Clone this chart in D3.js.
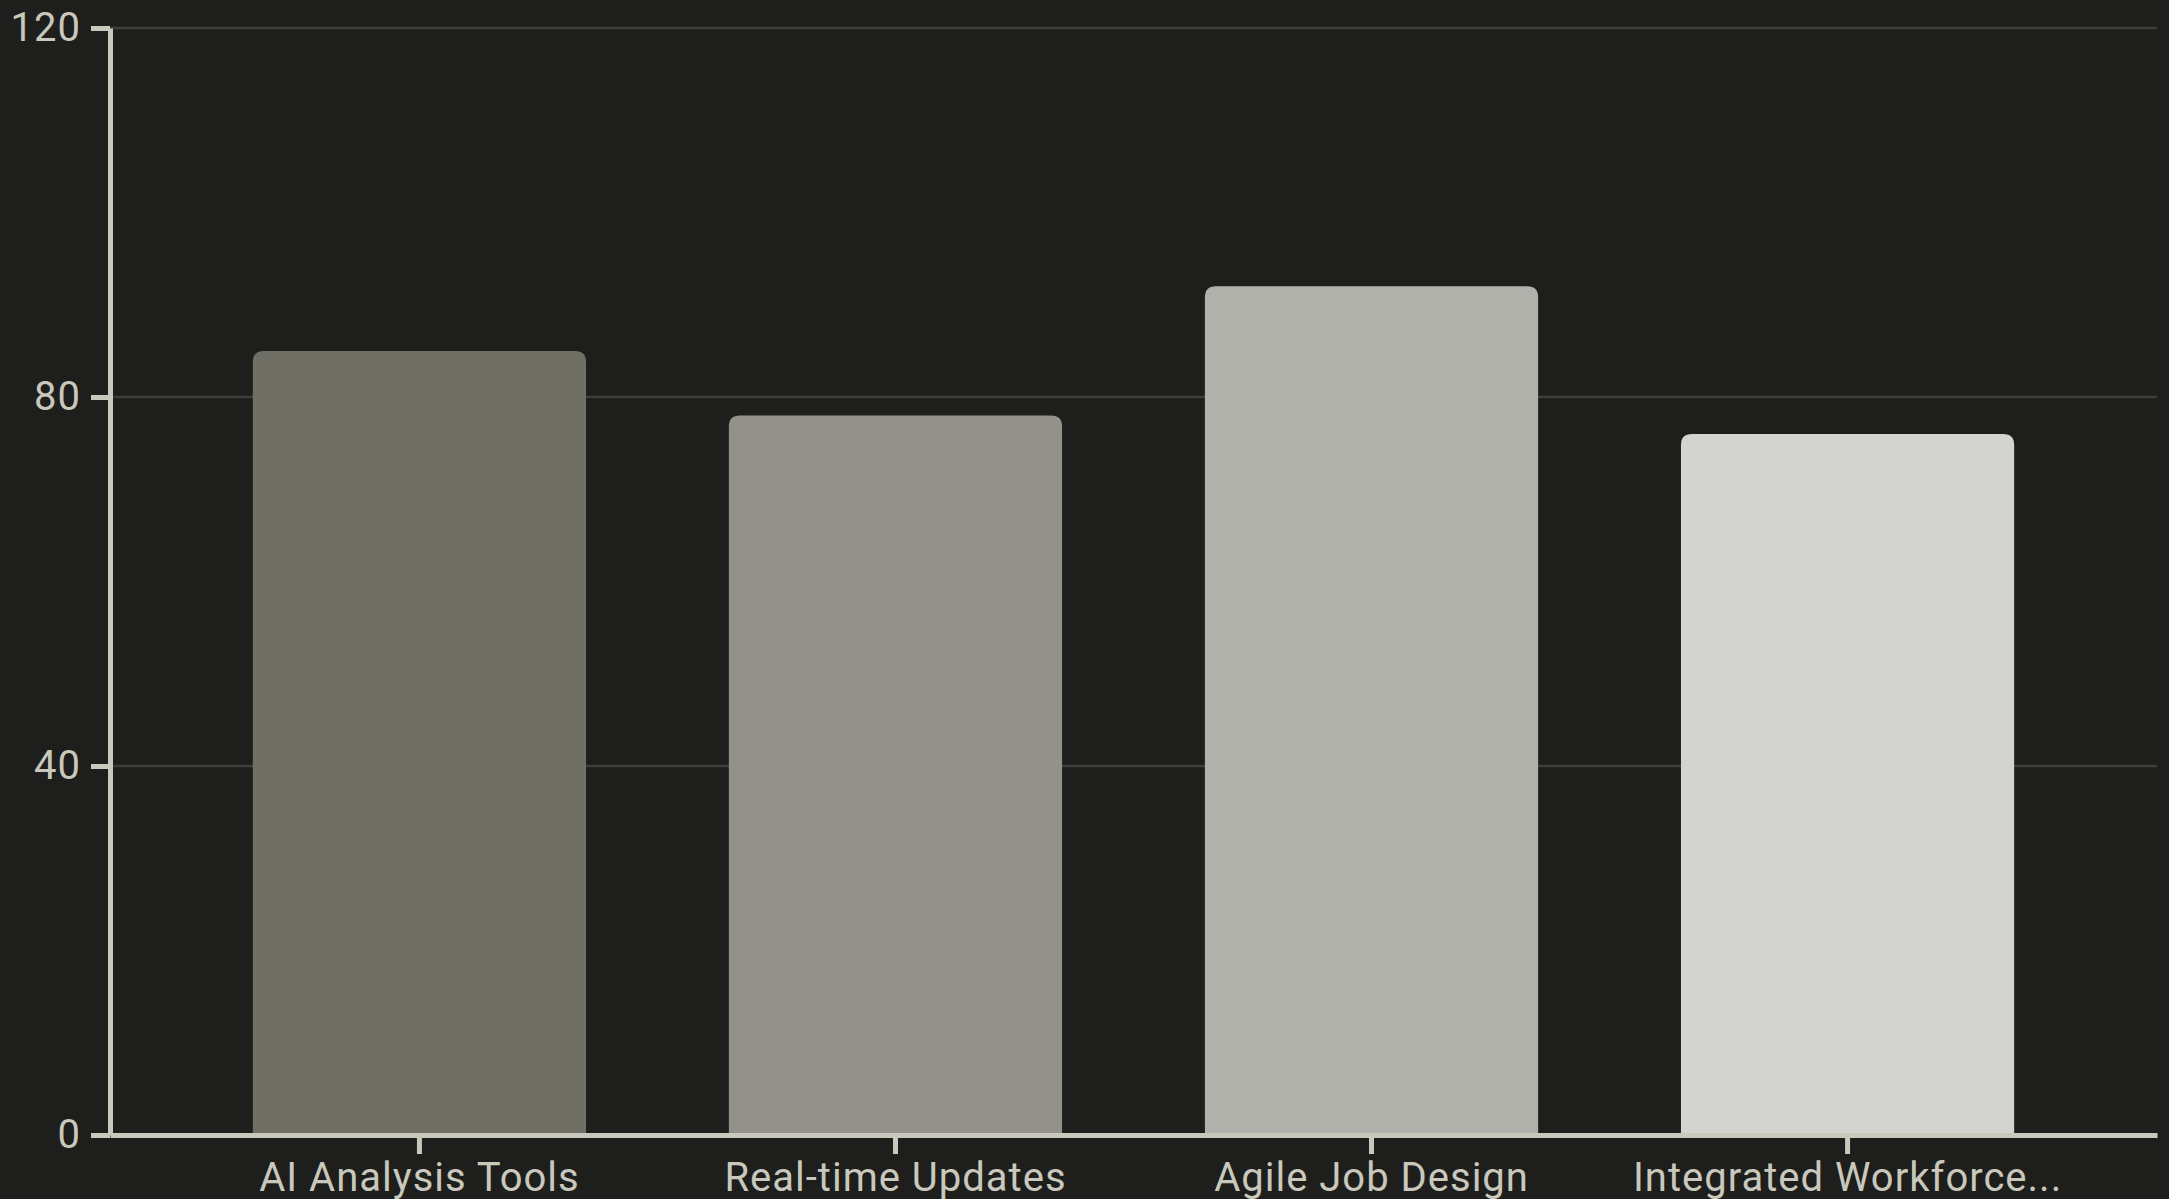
<!DOCTYPE html>
<meta charset="utf-8">
<script src="https://d3js.org/d3.v7.min.js"></script>
<style>
  body { margin: 0; background: #1e1e1c; }
</style>
<div id="bar_chart"></div>
<script>

    // data
    const categories = ["AI Analysis Tools", "Real-time Updates", "Agile Job Design", "Integrated Workforce..."];
    const values = [85, 78, 92, 76];
    const barColors = ["#6f6f66", "#92928a", "#b0b1ab", "#d3d4cf"];
    const yTicks = [0, 40, 80, 120];

    const W = 2169, H = 1199;
    const margin = {top: 28, right: 12, bottom: 64, left: 110},
          width = W - margin.left - margin.right,
          height = H - margin.top - margin.bottom;

    const axisColor = "#c8c8bc";

    const svg = d3.select("#bar_chart")
      .append("svg")
        .attr("width", W)
        .attr("height", H)
        .style("background", "#1e1e1c")
      .append("g")
        .attr("transform", "translate(" + margin.left + "," + margin.top + ")");

    const x = d3.scaleBand()
      .domain(categories)
      .range([0, width])
      .paddingInner(0.3)
      .paddingOuter(0.3);

    const y = d3.scaleLinear()
      .domain([0, 120])
      .range([height, 0]);

    // grid lines
    svg.append("g")
      .selectAll("line")
      .data(yTicks.filter(d => d > 0))
      .enter()
      .append("line")
        .attr("x1", 0)
        .attr("x2", width)
        .attr("y1", d => y(d))
        .attr("y2", d => y(d))
        .attr("stroke", "#3d3d3b")
        .attr("stroke-width", 2.5);

    // bars, top corners rounded
    const r = 11;
    function barPath(d, i) {
      const x0 = x(categories[i]), x1 = x0 + x.bandwidth();
      const y0 = y(d), yb = y(0);
      return "M" + x0 + "," + yb +
             "V" + (y0 + r) +
             "Q" + x0 + "," + y0 + " " + (x0 + r) + "," + y0 +
             "H" + (x1 - r) +
             "Q" + x1 + "," + y0 + " " + x1 + "," + (y0 + r) +
             "V" + yb + "Z";
    }

    svg.append("g")
      .selectAll("path")
      .data(values)
      .enter()
      .append("path")
        .attr("d", barPath)
        .attr("fill", (d, i) => barColors[i]);

    // axes
    const xAxis = svg.append("g")
      .attr("transform", "translate(0," + height + ")")
      .call(d3.axisBottom(x).tickSize(19).tickSizeOuter(0).tickPadding(9));

    const yAxis = svg.append("g")
      .call(d3.axisLeft(y).tickValues(yTicks).tickSize(19).tickSizeOuter(0).tickPadding(10));

    [xAxis, yAxis].forEach(function(g) {
      g.select(".domain").attr("stroke", axisColor).attr("stroke-width", 5);
      g.selectAll(".tick line").attr("stroke", axisColor).attr("stroke-width", 5);
      g.selectAll(".tick text")
        .attr("fill", axisColor)
        .attr("font-family", "Roboto, sans-serif")
        .attr("font-size", 40)
        .attr("letter-spacing", "1px");
    });

</script>
